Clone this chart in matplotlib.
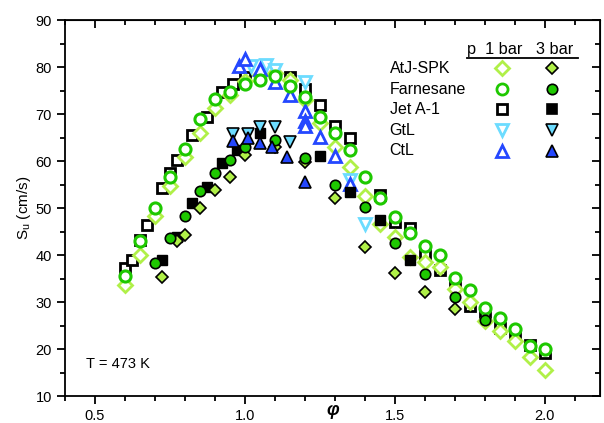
import matplotlib
matplotlib.use('Agg')
import matplotlib.pyplot as plt
from matplotlib.ticker import MultipleLocator

plt.rcParams['font.family'] = ['Liberation Sans', 'DejaVu Sans']

#1 bar data (open symbols)
atj1_x = [0.6, 0.65, 0.7, 0.75, 0.8, 0.85, 0.9, 0.95, 1.0, 1.05, 1.1, 1.15, 1.2, 1.25, 1.3,
          1.35, 1.4, 1.45, 1.5, 1.55, 1.6, 1.65, 1.7, 1.75, 1.8, 1.85, 1.9, 1.95, 2.0]
atj1_y = [33.6, 40.0, 48.4, 54.7, 60.9, 65.9, 71.2, 74.0, 77.0, 78.4, 78.7, 77.2, 73.0, 68.0, 62.9,
          58.8, 52.6, 46.7, 43.8, 39.5, 38.6, 37.5, 32.7, 29.9, 26.0, 23.9, 21.7, 18.2, 15.5]
far1_x = [0.6, 0.65, 0.7, 0.75, 0.8, 0.85, 0.9, 0.95, 1.0, 1.05, 1.1, 1.15, 1.2, 1.25, 1.3,
          1.35, 1.4, 1.45, 1.5, 1.55, 1.6, 1.65, 1.7, 1.75, 1.8, 1.85, 1.9, 1.95, 2.0]
far1_y = [35.6, 43.0, 49.9, 56.7, 62.6, 69.0, 73.1, 74.7, 76.3, 77.3, 78.1, 76.0, 73.7, 69.4, 65.9,
          62.3, 56.5, 52.1, 48.0, 44.6, 42.0, 40.1, 35.2, 32.6, 28.7, 26.5, 24.2, 20.7, 20.0]
jet1_x = [0.6, 0.625, 0.65, 0.675, 0.725, 0.75, 0.775, 0.825, 0.875, 0.925, 0.96, 1.0, 1.15, 1.2,
          1.25, 1.3, 1.35, 1.45, 1.5, 1.55, 1.6, 1.65, 1.7, 1.75, 1.8, 1.85, 1.9, 1.95, 2.0]
jet1_y = [37.2, 38.9, 43.3, 46.4, 54.2, 57.5, 60.2, 65.5, 69.3, 74.6, 76.4, 77.9, 77.9, 75.4,
          71.9, 67.5, 64.8, 52.7, 47.0, 45.8, 40.0, 36.8, 34.0, 29.1, 27.2, 24.4, 23.0, 20.9, 19.2]
gtl1_x = [1.02, 1.07, 1.1, 1.2, 1.35, 1.4]
gtl1_y = [80.2, 80.4, 79.3, 76.8, 56.0, 46.7]
ctl1_x = [0.98, 1.0, 1.05, 1.1, 1.15, 1.2, 1.2, 1.2, 1.25, 1.3, 1.35]
ctl1_y = [80.3, 81.8, 79.6, 76.8, 74.0, 70.7, 68.6, 67.4, 65.1, 61.0, 55.1]

#3 bar data (filled symbols)
atj3_x = [0.725, 0.775, 0.8, 0.85, 0.9, 0.95, 1.0, 1.1, 1.2, 1.3, 1.4, 1.5, 1.6, 1.7]
atj3_y = [35.4, 42.9, 44.3, 50.1, 53.9, 56.7, 61.2, 63.0, 59.8, 52.1, 41.6, 36.1, 32.2, 28.5]
far3_x = [0.7, 0.75, 0.8, 0.85, 0.9, 0.95, 1.0, 1.1, 1.2, 1.3, 1.4, 1.5, 1.6, 1.7, 1.8]
far3_y = [38.2, 43.6, 48.3, 53.6, 57.5, 60.2, 63.0, 64.5, 60.7, 55.0, 50.3, 42.6, 36.0, 31.0, 26.2]
jet3_x = [0.725, 0.775, 0.825, 0.875, 0.925, 0.975, 1.05, 1.25, 1.35, 1.45, 1.55]
jet3_y = [39.0, 43.9, 51.0, 54.5, 59.5, 62.3, 66.0, 61.1, 53.5, 47.4, 38.9]
gtl3_x = [0.96, 1.01, 1.05, 1.1, 1.15]
gtl3_y = [65.8, 65.8, 67.3, 67.3, 64.1]
ctl3_x = [0.96, 1.01, 1.05, 1.09, 1.14, 1.2]
ctl3_y = [64.2, 64.8, 63.8, 63.0, 60.9, 55.6]

names = ['AtJ-SPK', 'Farnesane', 'Jet A-1', 'GtL', 'CtL']
c_atj = '#b0f048'
c_far = '#1ec800'
c_jet = 'black'
c_gtl = '#6cdcff'
c_ctl = '#2447ff'

fig = plt.figure(figsize=(6.04, 4.23), dpi=100)
ax = fig.add_axes([0.1076, 0.0638, 0.8858, 0.8889])

#open symbols, 1 bar
ax.plot(jet1_x, jet1_y, 's', ms=7, mfc='white', mec=c_jet, mew=2, ls='none')
ax.plot(atj1_x, atj1_y, 'D', ms=7.5, mfc='white', mec=c_atj, mew=2, ls='none')
ax.plot(gtl1_x, gtl1_y, 'v', ms=9, mfc='white', mec=c_gtl, mew=2, ls='none')
ax.plot(ctl1_x, ctl1_y, '^', ms=9, mfc='white', mec=c_ctl, mew=2, ls='none')
ax.plot(far1_x, far1_y, 'o', ms=8, mfc='white', mec=c_far, mew=2.2, ls='none')

#filled symbols, 3 bar
ax.plot(jet3_x, jet3_y, 's', ms=6.5, mfc=c_jet, mec='black', mew=1, ls='none')
ax.plot(atj3_x, atj3_y, 'D', ms=6.5, mfc=c_atj, mec='black', mew=1.2, ls='none')
ax.plot(far3_x, far3_y, 'o', ms=7.5, mfc=c_far, mec='black', mew=1.2, ls='none')
ax.plot(gtl3_x, gtl3_y, 'v', ms=8, mfc=c_gtl, mec='black', mew=1.2, ls='none')
ax.plot(ctl3_x, ctl3_y, '^', ms=8, mfc=c_ctl, mec='black', mew=1.2, ls='none')

#hand made legend
open_sty = [('D', c_atj, 7.5), ('o', c_far, 8), ('s', c_jet, 7), ('v', c_gtl, 9), ('^', c_ctl, 9)]
fill_sty = [('D', c_atj, 6.5), ('o', c_far, 7.5), ('s', c_jet, 6.5), ('v', c_gtl, 8), ('^', c_ctl, 8)]
rows = [0.872, 0.816, 0.762, 0.707, 0.652]
ax.text(0.752, 0.922, 'p  1 bar   3 bar', transform=ax.transAxes, fontsize=11.8, va='center')
ax.plot([0.752, 0.958], [0.899, 0.899], color='black', lw=1.3, transform=ax.transAxes)
for i in range(5):
    ax.text(0.607, rows[i], names[i], transform=ax.transAxes, fontsize=11.5, va='center')
    m, c, s = open_sty[i]
    ax.plot([0.817], [rows[i]], m, ms=s, mfc='white', mec=c, mew=2, transform=ax.transAxes)
    m, c, s = fill_sty[i]
    ax.plot([0.910], [rows[i]], m, ms=s, mfc=c, mec='black', mew=1.2, transform=ax.transAxes)

ax.text(0.04, 0.075, 'T = 473 K', transform=ax.transAxes, fontsize=10.5)

ax.set_xlim(0.4, 2.184)
ax.set_ylim(10, 90)
ax.xaxis.set_major_locator(MultipleLocator(0.5))
ax.xaxis.set_minor_locator(MultipleLocator(0.1))
ax.yaxis.set_major_locator(MultipleLocator(10))
ax.yaxis.set_minor_locator(MultipleLocator(5))
ax.xaxis.set_major_formatter(plt.FuncFormatter(lambda v, p: '%.1f' % v))
ax.tick_params(which='both', direction='out', top=False, right=False, width=1.3, labelsize=10.5)
ax.tick_params(which='major', length=6)
ax.tick_params(which='minor', length=3.5)
for s in ax.spines.values():
    s.set_linewidth(1.3)

#inward ticks on top and right
ax2 = ax.secondary_xaxis('top')
ax2.xaxis.set_major_locator(MultipleLocator(0.5))
ax2.xaxis.set_minor_locator(MultipleLocator(0.1))
ax2.tick_params(which='both', direction='in', labeltop=False, width=1.3)
ax2.tick_params(which='major', length=6)
ax2.tick_params(which='minor', length=3.5)
ay2 = ax.secondary_yaxis('right')
ay2.yaxis.set_major_locator(MultipleLocator(10))
ay2.yaxis.set_minor_locator(MultipleLocator(5))
ay2.tick_params(which='both', direction='in', labelright=False, width=1.3)
ay2.tick_params(which='major', length=6)
ay2.tick_params(which='minor', length=3.5)

ax.set_xlabel('φ', fontsize=13, fontweight='bold', style='italic', va='center')
ax.xaxis.set_label_coords(0.5, -0.038)
ax.set_ylabel('S$_\\mathregular{u}$ (cm/s)', fontsize=11, labelpad=2)

plt.savefig('out.png', dpi=100)
